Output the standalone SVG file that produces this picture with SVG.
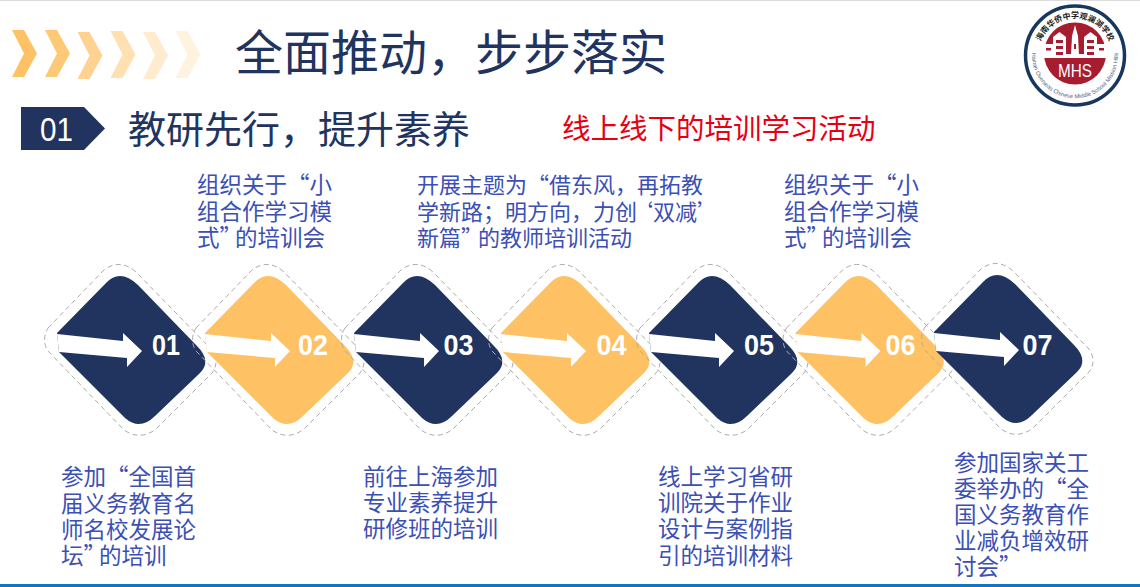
<svg xmlns="http://www.w3.org/2000/svg" width="1140" height="587" viewBox="0 0 1140 587">
<style>
.cjk{font-family:"Noto Sans CJK SC","Noto Sans",sans-serif}
.body{font-size:22.5px;fill:#3b4fb5}
.num{font-family:"Liberation Sans",Arial,sans-serif;font-weight:700;font-size:30px;fill:#fff;text-anchor:middle}
.navy{fill:#21345f}
.gold{fill:#fec163}
.dash{fill:none;stroke:#ababab;stroke-width:1;stroke-dasharray:5 3.5}
.arrow{fill:#fff}
</style>
<defs>
<path id="outline" d="M48,328 L104,270 Q120,258 136,272 L212,350 Q220,362 212,373 L156,429 Q140,441 124,430 L48,351 Q41,340 48,328 Z"/>
<path id="shape" d="M57,333 L106,283 Q120,268 138,285 L197,346 Q212,361 200,373 L155,416 Q140,431 125,418 L59,352 Z"/>
<path id="arw" d="M57,334 L123,341 L123,333 L142,351 L127,367 L127,358 L59,352 Z"/>
<polygon id="chev" points="0,0 12,0 25,23.500 12,47 0,47 12,23.500"/>
</defs>
<rect width="1140" height="587" fill="#fff"/>
<rect width="1140" height="1" fill="#ddd"/>
<rect y="584" width="1140" height="3" fill="#0e76c4"/>

<g id="chevrons" fill="#fec163">
<use href="#chev" x="12" y="30"/>
<use href="#chev" x="45" y="30" opacity=".88"/>
<use href="#chev" x="77.500" y="32" opacity=".7"/>
<use href="#chev" x="110.500" y="31" opacity=".5"/>
<use href="#chev" x="143" y="32" opacity=".32"/>
<use href="#chev" x="175.500" y="31" opacity=".2"/>
</g>
<text class="cjk" x="235" y="70" font-size="48" fill="#21345f">全面推动&#65292;步步落实</text>

<g id="section">
<polygon class="navy" points="21,107 84,107 105,128.500 84,150 21,150"/>
<text x="56.500" y="140.500" font-family="'Liberation Sans',Arial,sans-serif" font-size="34" fill="#fff" text-anchor="middle" textLength="33" lengthAdjust="spacingAndGlyphs">01</text>
<text class="cjk" x="128" y="143" font-size="38" fill="#21345f">教研先行&#65292;提升素养</text>
<text class="cjk" x="562" y="139" font-size="28.500" fill="#e60012">线上线下的培训学习活动</text>
</g>

<g id="logo">
<circle cx="1075" cy="55.500" r="49.500" fill="#fff" stroke="#17375e" stroke-width="3.500"/>
<circle cx="1075" cy="53.500" r="31" fill="#a81c30"/>
<path id="arcTop" d="M1038.600,48.600 A37,37 0 0 1 1111.400,48.600" fill="none"/>
<path id="arcBot" d="M1032.700,47.500 A43,43 0 1 0 1117.300,47.500" fill="none"/>
<text class="cjk" font-size="8" font-weight="700" fill="#222"><textPath href="#arcTop" startOffset="50%" text-anchor="middle">海南华侨中学观澜湖学校</textPath></text>
<text font-family="'Liberation Sans',Arial,sans-serif" font-size="5.800" fill="#52657f"><textPath href="#arcBot" startOffset="50%" text-anchor="middle">Hainan Overseas Chinese Middle School Mission Hills</textPath></text>
<g fill="#fff">
<rect x="1053" y="37" width="13" height="21"/>
<rect x="1084" y="37" width="13" height="21"/>
<polygon points="1053,37 1059.500,32 1066,37"/>
<polygon points="1084,37 1090.500,32 1097,37"/>
<rect x="1044" y="44" width="9" height="14"/>
<rect x="1097" y="44" width="9" height="14"/>
<polygon points="1075,25 1078,36 1079,55 1071,55 1072,36"/>
<rect x="1066" y="54" width="18" height="4"/>
</g>
<g fill="#a81c30">
<rect x="1056" y="40" width="7" height="3"/><rect x="1056" y="46" width="7" height="3"/><rect x="1056" y="52" width="7" height="3"/>
<rect x="1087" y="40" width="7" height="3"/><rect x="1087" y="46" width="7" height="3"/><rect x="1087" y="52" width="7" height="3"/>
<rect x="1046" y="48" width="5" height="2.500"/><rect x="1099" y="48" width="5" height="2.500"/>
<rect x="1074" y="44" width="2" height="5"/>
</g>
<text x="1075" y="77" font-family="'Liberation Sans',Arial,sans-serif" font-size="18" fill="#fff" text-anchor="middle" textLength="34" lengthAdjust="spacingAndGlyphs">MHS</text>
</g>

<g id="node01"><use href="#outline" class="dash"/><use href="#shape" class="navy"/><use href="#arw" class="arrow"/><text class="num" x="166" y="355" textLength="28" lengthAdjust="spacingAndGlyphs">01</text></g>
<g id="node02"><use href="#outline" class="dash" x="148"/><use href="#shape" class="gold" x="148"/><use href="#arw" class="arrow" x="148"/><text class="num" x="313" y="355" textLength="30" lengthAdjust="spacingAndGlyphs">02</text></g>
<g id="node03"><use href="#outline" class="dash" x="297"/><use href="#shape" class="navy" x="297"/><use href="#arw" class="arrow" x="297"/><text class="num" x="458.500" y="355" textLength="30" lengthAdjust="spacingAndGlyphs">03</text></g>
<g id="node04"><use href="#outline" class="dash" x="444"/><use href="#shape" class="gold" x="444"/><use href="#arw" class="arrow" x="444"/><text class="num" x="611.500" y="355" textLength="30" lengthAdjust="spacingAndGlyphs">04</text></g>
<g id="node05"><use href="#outline" class="dash" x="592"/><use href="#shape" class="navy" x="592"/><use href="#arw" class="arrow" x="592"/><text class="num" x="759" y="355" textLength="30" lengthAdjust="spacingAndGlyphs">05</text></g>
<g id="node06"><use href="#outline" class="dash" x="738.500"/><use href="#shape" class="gold" x="738.500"/><use href="#arw" class="arrow" x="738.500"/><text class="num" x="900.500" y="355" textLength="30" lengthAdjust="spacingAndGlyphs">06</text></g>
<g id="node07"><use href="#outline" class="dash" x="877" y="-1"/><use href="#shape" class="navy" x="877" y="-1"/><use href="#arw" class="arrow" x="877" y="-1"/><text class="num" x="1037.500" y="354.500" textLength="30" lengthAdjust="spacingAndGlyphs">07</text></g>

<g id="label02" class="cjk body"><text x="197" y="193">组织关于“小</text><text x="197" y="220">组合作学习模</text><text x="197" y="246">式”<tspan dx="-7">的培训会</tspan></text></g>
<g id="label04" class="cjk body" style="font-size:22px"><text x="417" y="193">开展主题为“借东风&#65292;再拓教</text><text x="417" y="220">学新路&#65307;明方向&#65292;力创<tspan dx="-6">‘双减’</tspan></text><text x="417" y="246">新篇”<tspan dx="-5">的教师培训活动</tspan></text></g>
<g id="label06" class="cjk body"><text x="784" y="193">组织关于“小</text><text x="784" y="220">组合作学习模</text><text x="784" y="246">式”<tspan dx="-7">的培训会</tspan></text></g>
<g id="label01" class="cjk body"><text x="61" y="485">参加“全国首</text><text x="61" y="512">届义务教育名</text><text x="61" y="538">师名校发展论</text><text x="61" y="564">坛”<tspan dx="-7">的培训</tspan></text></g>
<g id="label03" class="cjk body"><text x="363" y="485">前往上海参加</text><text x="363" y="511">专业素养提升</text><text x="363" y="537">研修班的培训</text></g>
<g id="label05" class="cjk body"><text x="658" y="485">线上学习省研</text><text x="658" y="511">训院关于作业</text><text x="658" y="537">设计与案例指</text><text x="658" y="564">引的培训材料</text></g>
<g id="label07" class="cjk body"><text x="954" y="471">参加国家关工</text><text x="954" y="497">委举办的“全</text><text x="954" y="523">国义务教育作</text><text x="954" y="549">业减负增效研</text><text x="954" y="575">讨会”</text></g>
</svg>
